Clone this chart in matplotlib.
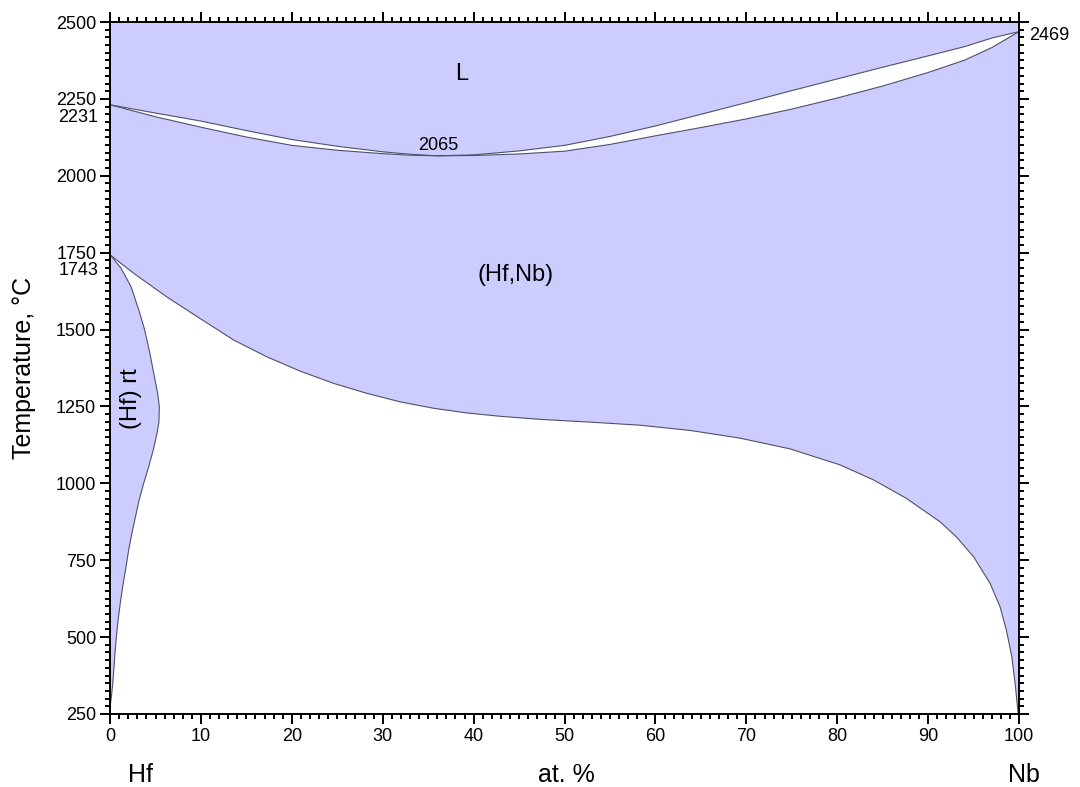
import matplotlib.pyplot as plt
import numpy as np
from matplotlib.ticker import MultipleLocator

plt.rcParams["font.family"] = ["Liberation Sans", "DejaVu Sans"]

# liquidus / solidus lens (at.% Nb, degC)
liq_x = [0, 5, 10, 15, 20, 25, 30, 33, 36, 40, 45, 50, 55, 60, 65, 70, 75, 80, 85, 90, 94, 97, 100]
liq_t = [2231, 2204, 2178, 2147, 2118, 2096, 2078, 2070, 2065, 2068, 2081, 2099, 2128, 2162, 2200, 2238, 2277, 2315, 2353, 2390, 2420, 2448, 2469]
sol_x = [0, 5, 10, 15, 20, 25, 30, 33, 36, 40, 45, 50, 55, 60, 65, 70, 75, 80, 85, 90, 94, 97, 100]
sol_t = [2231, 2192, 2158, 2126, 2099, 2083, 2072, 2067, 2065, 2066, 2071, 2080, 2102, 2130, 2157, 2185, 2217, 2253, 2292, 2336, 2376, 2417, 2469]

# (Hf,Nb) miscibility gap boundary
gap_x = [0, 2.6, 6.2, 9.9, 13.6, 17.2, 20.9, 24.6, 28.2, 31.9, 35.6, 39.2, 42.9, 47.3, 52.8, 58.3,
         63.8, 69.3, 74.8, 80.3, 84.0, 87.6, 91.3, 93.1, 95.0, 96.8, 97.9, 98.6, 99.2, 99.6, 99.85, 100]
gap_t = [1743, 1683, 1607, 1536, 1466, 1412, 1365, 1325, 1293, 1265, 1244, 1229, 1218, 1208, 1199, 1189,
         1172, 1147, 1112, 1060, 1011, 951, 875, 826, 761, 675, 599, 523, 436, 339, 265, 225]

# (Hf) rt boundary
hcp_t = [1743, 1700, 1640, 1560, 1500, 1420, 1336, 1290, 1250, 1200, 1160, 1108, 1054, 1000, 946, 892, 837,
         783, 729, 675, 621, 566, 512, 458, 404, 350, 317, 272]
hcp_x = [0, 1.2, 2.3, 3.2, 3.8, 4.4, 4.95, 5.25, 5.42, 5.38, 5.15, 4.75, 4.25, 3.7, 3.2, 2.8, 2.4,
         2.05, 1.76, 1.45, 1.17, 0.93, 0.73, 0.57, 0.44, 0.3, 0.19, 0]

blue = "#ccccff"
line = "#50506a"

fig = plt.figure(figsize=(10.8, 7.87), dpi=100)
ax = fig.add_axes([0.1019, 0.0928, 0.8417, 0.8792])
ax.set_xlim(0, 100)
ax.set_ylim(250, 2500)
ax.set_facecolor(blue)

# white two-phase fields
ax.fill(liq_x + sol_x[::-1], liq_t + sol_t[::-1], color="white", lw=0)
wx = gap_x + [100, 0] + hcp_x[::-1]
wt = gap_t + [200, 200] + hcp_t[::-1]
ax.fill(wx, wt, color="white", lw=0)

for xs, ts in [(liq_x, liq_t), (sol_x, sol_t), (gap_x, gap_t), (hcp_x, hcp_t)]:
    ax.plot(xs, ts, color=line, lw=0.8)

# ticks
ax.xaxis.set_major_locator(MultipleLocator(10))
ax.xaxis.set_minor_locator(MultipleLocator(1))
ax.yaxis.set_major_locator(MultipleLocator(250))
ax.yaxis.set_minor_locator(MultipleLocator(25))
ax.tick_params(which="both", direction="out", top=True, right=True, width=1.4, labelsize=13)
ax.tick_params(which="major", length=7, pad=3)
ax.tick_params(which="minor", length=3.5)
ax.tick_params(labeltop=False, labelright=False)
for s in ax.spines.values():
    s.set_linewidth(1.4)

# extra temperature labels
ax.annotate("2231", xy=(0, 2231), xycoords=("axes fraction", "data"), xytext=(-8.5, -9.5),
            textcoords="offset points", ha="right", va="center", fontsize=13)
ax.annotate("1743", xy=(0, 1743), xycoords=("axes fraction", "data"), xytext=(-8.5, -11.5),
            textcoords="offset points", ha="right", va="center", fontsize=13)
ax.annotate("2469", xy=(1, 2469), xycoords=("axes fraction", "data"), xytext=(7, -3),
            textcoords="offset points", ha="left", va="center", fontsize=13)

ax.text(38.7, 2330, "L", fontsize=17, ha="center", va="center")
ax.text(44.6, 1677, "(Hf,Nb)", fontsize=17, ha="center", va="center")
ax.text(2.3, 1275, "(Hf) rt", fontsize=17, ha="center", va="center", rotation=90)
ax.text(36.1, 2098, "2065", fontsize=13, ha="center", va="center")

ax.set_ylabel("Temperature, \u00b0C", fontsize=18)
ax.yaxis.set_label_coords(-0.081, 0.5)
fig.text(141 / 1080, 1 - 775 / 787, "Hf", fontsize=18, ha="center", va="center")
fig.text(566 / 1080, 1 - 775 / 787, "at. %", fontsize=18, ha="center", va="center")
fig.text(1024 / 1080, 1 - 775 / 787, "Nb", fontsize=18, ha="center", va="center")

fig.savefig("out.png", dpi=100)
